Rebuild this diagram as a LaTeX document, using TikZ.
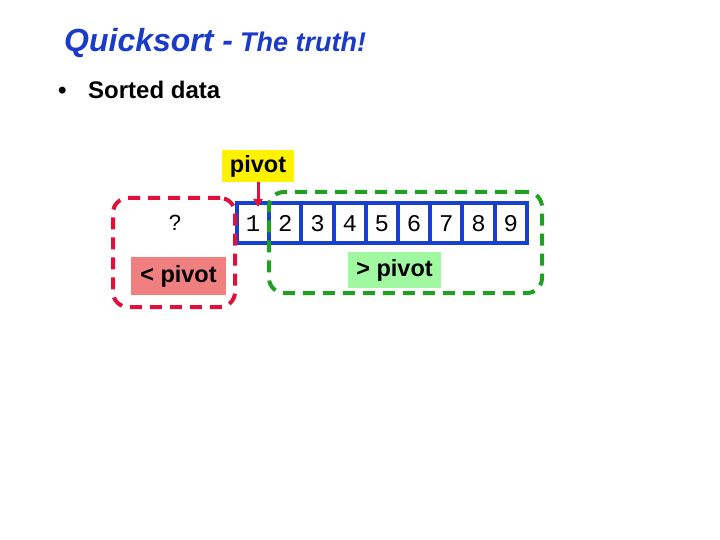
\documentclass[tikz,border=0pt]{standalone}
\usepackage{fontspec}
\setmainfont{Liberation Sans}
\newfontfamily\monofont{Liberation Mono}
\usetikzlibrary{arrows.meta}
\definecolor{titleblue}{RGB}{26,58,200}
\definecolor{cellblue}{RGB}{24,64,208}
\definecolor{dashred}{RGB}{224,16,58}
\definecolor{dashgreen}{RGB}{32,160,32}
\definecolor{pinkfill}{RGB}{240,128,128}
\definecolor{lgreen}{RGB}{160,248,160}
\tikzset{
  txt/.style={inner sep=0pt, anchor=base west},
  cell/.style={draw=cellblue, line width=4pt, minimum width=32.2pt, minimum height=40pt, inner sep=0pt, text height=17pt, text depth=0pt, font=\monofont\fontsize{24}{24}\selectfont},
  dashbox/.style={line width=4pt, dash pattern=on 12pt off 8pt, rounded corners=15pt},
  label/.style={inner sep=0pt, font=\bfseries\fontsize{23.5}{23.5}\selectfont},
}
\begin{document}
\begin{tikzpicture}[x=1pt,y=-1pt]
\useasboundingbox (0,0) rectangle (720,540);
\node[txt, text=titleblue] (title) at (64,52) {\bfseries\itshape{\fontsize{32}{36}\selectfont Quicksort -}\hspace{7pt}{\fontsize{27}{30}\selectfont The truth!}};
\node[txt] (bullet) at (58,99) {\fontsize{24}{26}\selectfont\bfseries •};
\node[txt] (sorted) at (88,99) {\fontsize{24}{26}\selectfont\bfseries Sorted data};
% array
\foreach \i in {1,...,9} {
  \node[cell] (c\i) at ({237+32.2*(\i-0.5)},223) {\i};
}
% pivot label
\node[label, fill=yellow, minimum width=72pt, minimum height=32pt] (pivot) at (258,166) {pivot};
\draw[dashred, line width=3pt, -{Triangle[length=8pt,width=9pt]}] (pivot.south) -- ([yshift=-6pt]pivot.south |- c1.north);
% red dashed box
\node[draw=dashred, dashbox, minimum width=122pt, minimum height=109pt] (redbox) at (174,252.5) {};
\node[font=\fontsize{22}{22}\selectfont, inner sep=0pt] (q) at (175,223) {?};
\node[label, fill=pinkfill, minimum width=95pt, minimum height=38pt] (lt) at (178.5,276) {< pivot};
% green dashed box
\node[draw=dashgreen, dashbox, minimum width=273pt, minimum height=101pt] (greenbox) at (405.5,242.5) {};
\node[label, fill=lgreen, minimum width=93pt, minimum height=36pt] (gt) at (394.5,270) {> pivot};
\end{tikzpicture}
\end{document}
